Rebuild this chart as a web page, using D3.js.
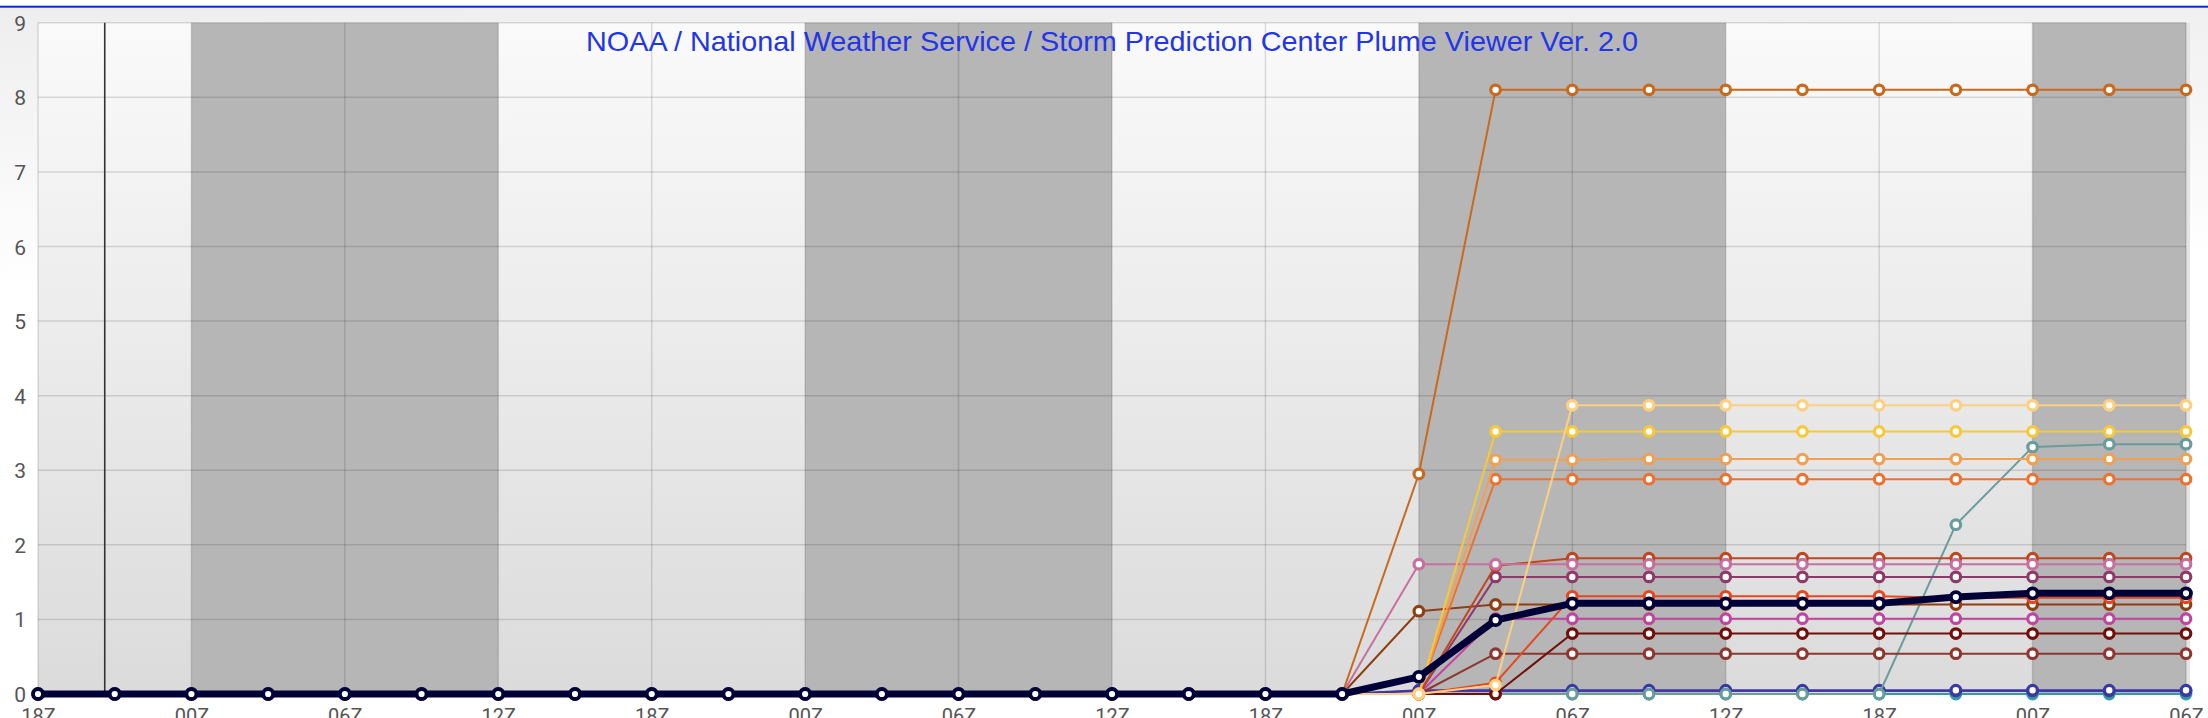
<!DOCTYPE html>
<html><head><meta charset="utf-8">
<script src="https://cdn.jsdelivr.net/npm/d3@7"></script>
<style>html,body{margin:0;padding:0;background:#fff;overflow:hidden}</style>
</head><body>
<svg id="c" width="2208" height="718"></svg>
<script>
const titleText = "NOAA / National Weather Service / Storm Prediction Center Plume Viewer Ver. 2.0";
const tickLabels = ["18Z","00Z","06Z","12Z","18Z","00Z","06Z","12Z","18Z","00Z","06Z","12Z","18Z","00Z","06Z"];
const yTicks = [0,1,2,3,4,5,6,7,8,9];
// night bands as [start index, end index] in 3-hour steps
const nightBands = [[2,6],[10,14],[18,22],[26,28]];
const nowIndex = 0.87;

const chocolate   = [0,0,0,0,0,0,0,0,0,0,0,0,0,0,0,0,0,0,2.95,8.1,8.1,8.1,8.1,8.1,8.1,8.1,8.1,8.1,8.1];
const pink        = [0,0,0,0,0,0,0,0,0,0,0,0,0,0,0,0,0,0,1.74,1.74,1.74,1.74,1.74,1.74,1.74,1.74,1.74,1.74,1.74];
const brown       = [0,0,0,0,0,0,0,0,0,0,0,0,0,0,0,0,0,0,1.11,1.20,1.20,1.20,1.20,1.20,1.20,1.20,1.20,1.20,1.20];
const gold        = [0,0,0,0,0,0,0,0,0,0,0,0,0,0,0,0,0,0,0,3.52,3.52,3.52,3.52,3.52,3.52,3.52,3.52,3.52,3.52];
const lightOrange = [0,0,0,0,0,0,0,0,0,0,0,0,0,0,0,0,0,0,0,3.14,3.14,3.15,3.15,3.15,3.15,3.15,3.15,3.15,3.15];
const orange      = [0,0,0,0,0,0,0,0,0,0,0,0,0,0,0,0,0,0,0,2.88,2.88,2.88,2.88,2.88,2.88,2.88,2.88,2.88,2.88];
const lightYellow = [0,0,0,0,0,0,0,0,0,0,0,0,0,0,0,0,0,0,0,0.12,3.87,3.87,3.87,3.87,3.87,3.87,3.87,3.87,3.87];
const redOrange   = [0,0,0,0,0,0,0,0,0,0,0,0,0,0,0,0,0,0,0,0.15,1.31,1.31,1.31,1.31,1.31,1.29,1.29,1.29,1.29];
const rust        = [0,0,0,0,0,0,0,0,0,0,0,0,0,0,0,0,0,0,0,1.72,1.82,1.82,1.82,1.82,1.82,1.82,1.82,1.82,1.82];
const mauve       = [0,0,0,0,0,0,0,0,0,0,0,0,0,0,0,0,0,0,0,1.57,1.57,1.57,1.57,1.57,1.57,1.57,1.57,1.57,1.57];
const magenta     = [0,0,0,0,0,0,0,0,0,0,0,0,0,0,0,0,0,0,0,1.01,1.01,1.01,1.01,1.01,1.01,1.01,1.01,1.01,1.01];
const maroon      = [0,0,0,0,0,0,0,0,0,0,0,0,0,0,0,0,0,0,0,0,0.81,0.81,0.81,0.81,0.81,0.81,0.81,0.81,0.81];
const brownRed    = [0,0,0,0,0,0,0,0,0,0,0,0,0,0,0,0,0,0,0,0.54,0.54,0.54,0.54,0.54,0.54,0.54,0.54,0.54,0.54];
const teal        = [0,0,0,0,0,0,0,0,0,0,0,0,0,0,0,0,0,0,0,0,0,0,0,0,0,0,0,0,0];
const purple      = [0,0,0,0,0,0,0,0,0,0,0,0,0,0,0,0,0,0,0.04,0.04,0.04,0.04,0.04,0.04,0.04,0.04,0.04,0.04,0.04];
const blue        = [0,0,0,0,0,0,0,0,0,0,0,0,0,0,0,0,0,0,0.05,0.05,0.05,0.05,0.05,0.05,0.05,0.05,0.05,0.05,0.05];
const tealGray    = [0,0,0,0,0,0,0,0,0,0,0,0,0,0,0,0,0,0,0,0,0,0,0,0,0,2.27,3.31,3.35,3.35];
const mean        = [0,0,0,0,0,0,0,0,0,0,0,0,0,0,0,0,0,0,0.23,0.99,1.215,1.215,1.215,1.215,1.215,1.30,1.35,1.35,1.35];

const members = [
  {v: teal, c: "#2e9ea6"},
  {v: purple, c: "#6232a2"},
  {v: blue, c: "#3838a8"},
  {v: tealGray, c: "#6a9c9c"},
  {v: brownRed, c: "#8c3830"},
  {v: maroon, c: "#701008"},
  {v: magenta, c: "#c044a0"},
  {v: brown, c: "#8e3e12"},
  {v: redOrange, c: "#e8461e"},
  {v: mauve, c: "#8e3a68"},
  {v: rust, c: "#c0461e"},
  {v: pink, c: "#c670a0"},
  {v: orange, c: "#ec7230"},
  {v: lightOrange, c: "#f2a050"},
  {v: gold, c: "#f6c83a"},
  {v: lightYellow, c: "#fcd080"},
  {v: chocolate, c: "#c8691e"}
];

const W = 2208, H = 718;
const svg = d3.select("#c");
const pLeft = 38, pRight = 2186, pTop = 22.7, pBottom = 694;
const x = d3.scaleLinear().domain([0, 28]).range([pLeft, pRight]);
const y = d3.scaleLinear().domain([0, 9]).range([pBottom, pTop]);

const defs = svg.append("defs");
const bg = defs.append("linearGradient").attr("id","bg").attr("x1",0).attr("y1",0).attr("x2",0.05).attr("y2",1);
bg.append("stop").attr("offset",0).attr("stop-color","#eeeeee");
bg.append("stop").attr("offset",0.4).attr("stop-color","#ffffff");
bg.append("stop").attr("offset",1).attr("stop-color","#ffffff");
const pg = defs.append("linearGradient").attr("id","pg").attr("x1",0).attr("y1",0).attr("x2",0).attr("y2",1);
pg.append("stop").attr("offset",0).attr("stop-color","#fafafa");
pg.append("stop").attr("offset",1).attr("stop-color","#dbdbdb");

svg.append("rect").attr("x",0).attr("y",0).attr("width",W).attr("height",H).attr("fill","#fff");
svg.append("rect").attr("x",0).attr("y",8).attr("width",W).attr("height",H-8).attr("fill","url(#bg)");
svg.append("rect").attr("x",0).attr("y",5.7).attr("width",W).attr("height",2).attr("fill","#0a22e0");

// plot area
svg.append("rect").attr("x",pLeft).attr("y",pTop).attr("width",pRight-pLeft).attr("height",pBottom-pTop).attr("fill","url(#pg)");
svg.append("rect").attr("x",pRight).attr("y",pTop).attr("width",4).attr("height",pBottom-pTop).attr("fill","#e4e4e4");
svg.append("g").selectAll("rect").data(nightBands).join("rect")
  .attr("x", d => x(d[0])).attr("y", pTop)
  .attr("width", d => x(d[1]) - x(d[0])).attr("height", pBottom - pTop)
  .attr("fill", "#b6b6b6");
svg.append("rect").attr("x",pLeft).attr("y",pBottom).attr("width",W-pLeft).attr("height",H-pBottom).attr("fill","#fff");

// grid
const grid = svg.append("g").attr("stroke","rgba(0,0,0,0.13)").attr("stroke-width",1.5);
grid.selectAll("line.h").data(yTicks).join("line").attr("class","h")
  .attr("x1", pLeft).attr("x2", pRight).attr("y1", d => y(d)).attr("y2", d => y(d));
grid.selectAll("line.v").data(tickLabels).join("line").attr("class","v")
  .attr("x1", (d,i) => x(i*2)).attr("x2", (d,i) => x(i*2)).attr("y1", pTop).attr("y2", pBottom);

// now line
svg.append("line").attr("x1", x(nowIndex)).attr("x2", x(nowIndex)).attr("y1", pTop).attr("y2", pBottom)
  .attr("stroke","#333").attr("stroke-width",1.6);

// axes labels
const yAxis = d3.axisLeft(y).tickValues(yTicks).tickSize(0).tickPadding(0).tickFormat(d3.format("d"));
const ya = svg.append("g").attr("transform",`translate(${pLeft-12},0)`).call(yAxis);
ya.select(".domain").remove();
ya.selectAll("text").attr("font-family","Roboto, 'DejaVu Sans', sans-serif").attr("font-size",21).attr("fill","#555").attr("dy","0.36em");

const xAxis = d3.axisBottom(x).tickValues(tickLabels.map((d,i)=>i*2)).tickSize(0).tickPadding(0).tickFormat((d,i)=>tickLabels[i]);
const xa = svg.append("g").attr("transform",`translate(0,${pBottom+29})`).call(xAxis);
xa.select(".domain").remove();
xa.selectAll("text").attr("font-family","Roboto, 'DejaVu Sans', sans-serif").attr("font-size",20).attr("fill","#555").attr("dy","0");

// title
svg.append("text").attr("x", (pLeft+pRight)/2).attr("y", 51).attr("text-anchor","middle")
  .attr("font-family","'Liberation Sans', Arial, sans-serif").attr("font-size",28).attr("fill","#2235e8")
  .attr("textLength", 1052).attr("lengthAdjust","spacingAndGlyphs").text(titleText);

const line = d3.line().x((d,i) => x(i)).y(d => y(d));
function drawSeries(s, lw, r, sw) {
  const g = svg.append("g");
  g.append("path").datum(s.v).attr("d", line).attr("fill","none").attr("stroke", s.c).attr("stroke-width", lw).attr("stroke-linejoin","round");
  g.selectAll("circle").data(s.v).join("circle")
    .attr("cx", (d,i) => x(i)).attr("cy", d => y(d)).attr("r", r)
    .attr("fill","#fff").attr("stroke", s.c).attr("stroke-width", sw);
}
members.forEach(s => drawSeries(s, 2, 4.8, 3.2));
drawSeries({v: mean, c: "#000038"}, 7, 5, 3.8);
</script>
</body></html>
